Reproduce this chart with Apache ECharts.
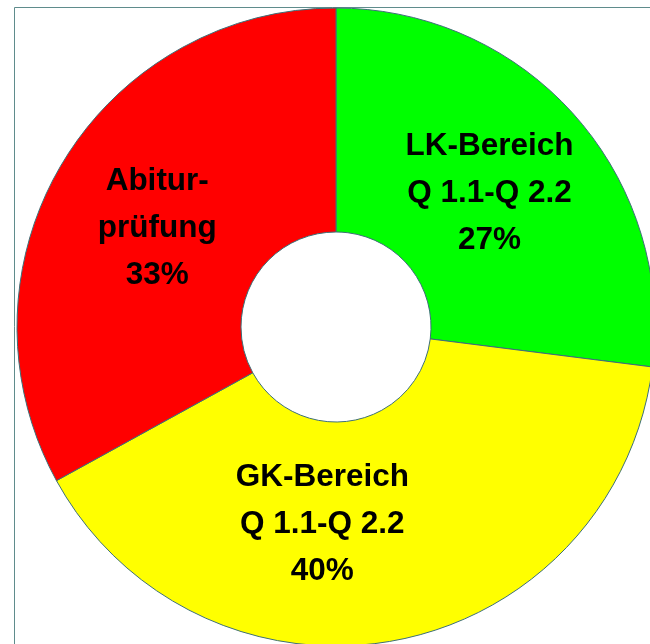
<!DOCTYPE html>
<html>
<head>
<meta charset="utf-8">
<script src="https://cdn.jsdelivr.net/npm/echarts@6/dist/echarts.min.js"></script>
<style>
html,body{margin:0;padding:0;background:#fff;}
#chart{width:650px;height:644px;}
</style>
</head>
<body>
<div id="chart"></div>
<script>
var categories = ['LK-Bereich\nQ 1.1-Q 2.2', 'GK-Bereich\nQ 1.1-Q 2.2', 'Abitur-\nprüfung'];
var values = [27, 40, 33];
var colors = ['#00ff00', '#ffff00', '#ff0000'];
var labelOffsets = [[-4, 5], [-53, -9], [2, 8]];

var chart = echarts.init(document.getElementById('chart'));
var data = categories.map(function (c, i) {
  return {
    name: c,
    value: values[i],
    itemStyle: { color: colors[i] },
    label: { offset: labelOffsets[i] }
  };
});
chart.setOption({
  animation: false,
  graphic: [{
    type: 'rect',
    shape: { x: 14.5, y: 7.5, width: 700, height: 700 },
    style: { fill: 'none', stroke: '#5f8c8c', lineWidth: 1 },
    z: 0
  }],
  series: [{
    type: 'pie',
    center: [336, 327],
    radius: [95, 319],
    startAngle: 90,
    clockwise: true,
    avoidLabelOverlap: false,
    itemStyle: { borderColor: '#3d6f78', borderWidth: 1 },
    label: {
      show: true,
      position: 'inside',
      formatter: function (p) { return p.name + '\n' + p.value + '%'; },
      fontFamily: '"Liberation Sans", Arial, sans-serif',
      fontWeight: 'bold',
      fontSize: 31.5,
      lineHeight: 47,
      color: '#000',
      align: 'center'
    },
    labelLine: { show: false },
    emphasis: { disabled: true },
    data: data
  }]
});
</script>
</body>
</html>
